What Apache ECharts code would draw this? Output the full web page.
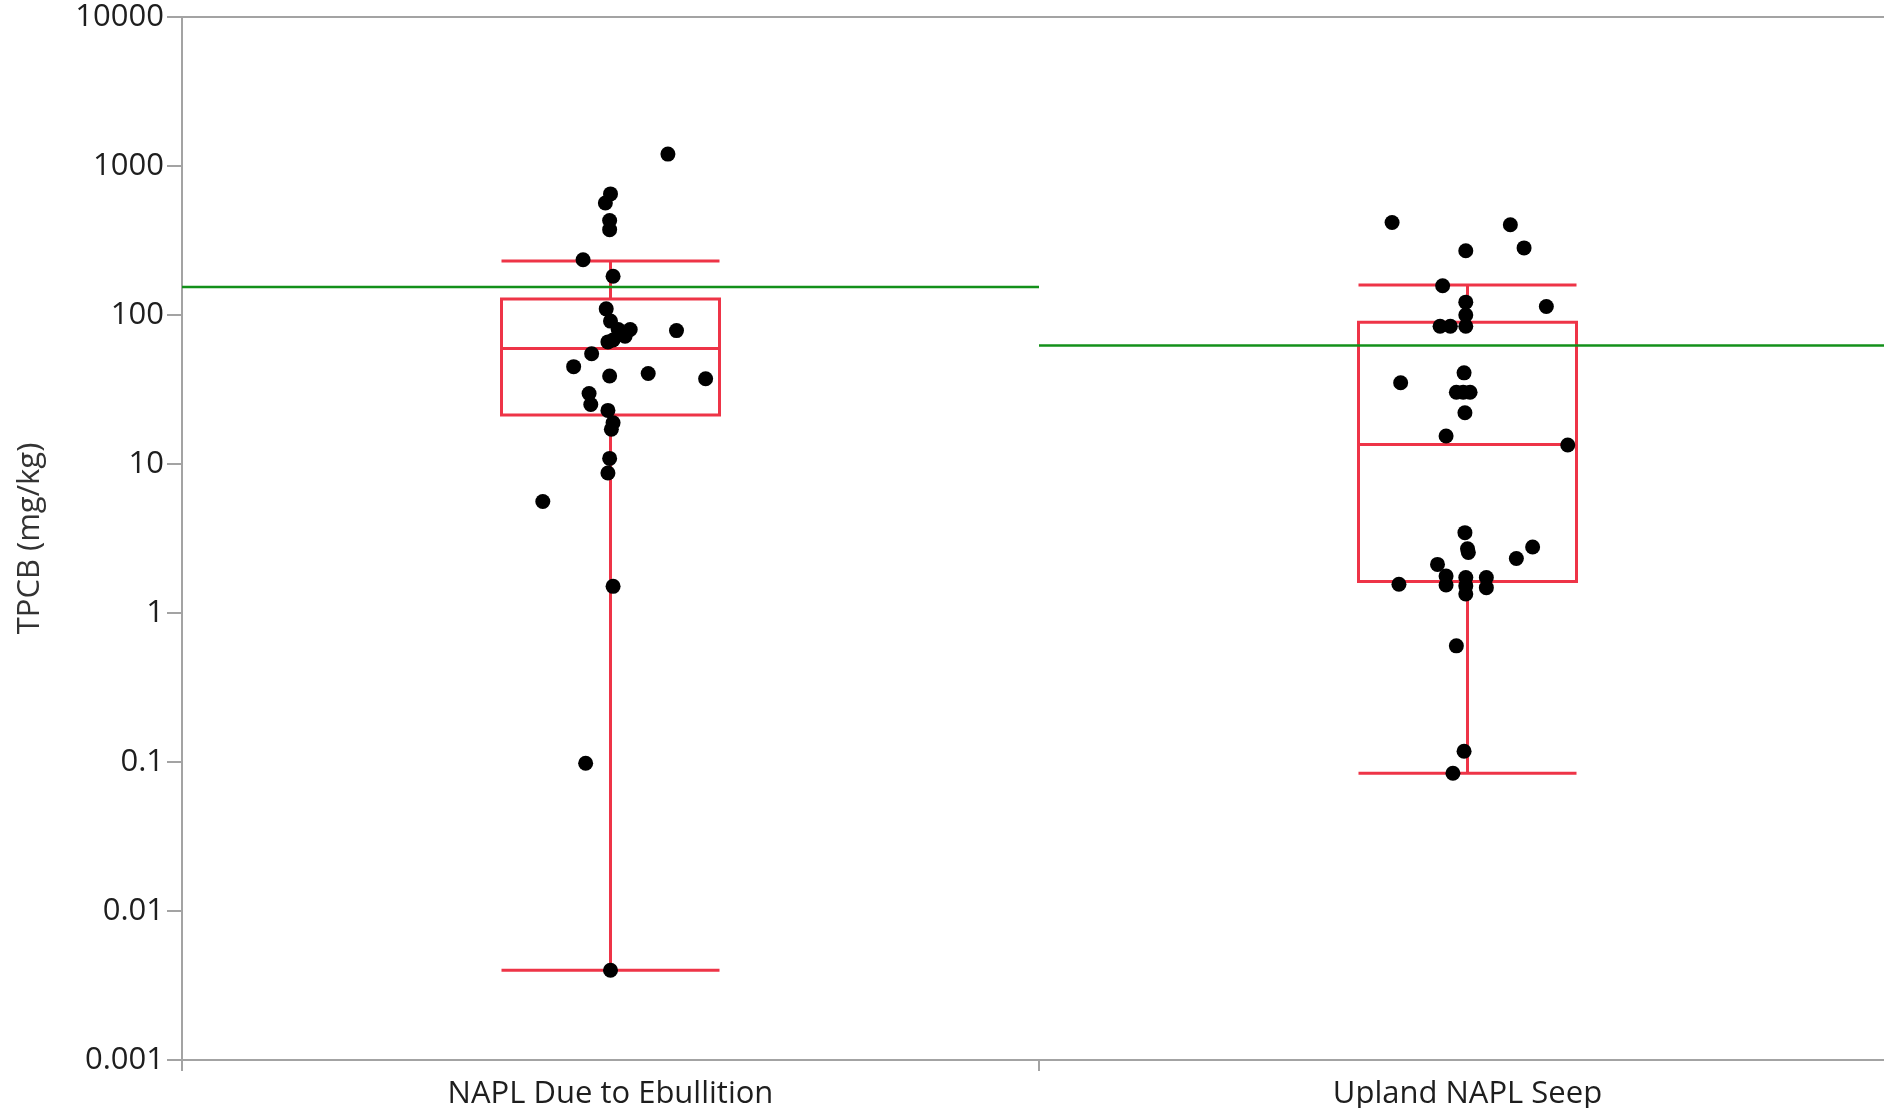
<!DOCTYPE html>
<html>
<head>
<meta charset="utf-8">
<title>TPCB by NAPL source</title>
<script src="https://cdn.jsdelivr.net/npm/echarts@6/dist/echarts.min.js"></script>
<style>
  html, body { margin: 0; padding: 0; background: #ffffff; overflow: hidden; }
  #chart { width: 1884px; height: 1108px; }
</style>
</head>
<body>
<div id="chart"></div>
<script>
// Groups on the x axis
const categories = ['NAPL Due to Ebullition', 'Upland NAPL Seep'];

// TPCB results (mg/kg) for each group, with horizontal jitter in band widths
const ebullitionValues = [1202, 650, 565, 431, 374, 235, 182, 110, 91, 80, 80, 72, 68, 66, 78.6,
  55, 45, 39, 40.5, 37.3, 29.7, 25.1, 22.9, 18.9, 17.1, 10.9, 8.7, 5.6, 1.51, 0.098, 0.004];
const ebullitionJitter = [0.067, 0.0, -0.006, -0.001, -0.001, -0.032, 0.003, -0.005, 0.0, 0.009, 0.023, 0.017, 0.003, -0.003, 0.077,
  -0.022, -0.043, -0.001, 0.044, 0.111, -0.025, -0.023, -0.003, 0.003, 0.001, -0.001, -0.003, -0.079, 0.003, -0.029, 0.0];

const seepValues = [418, 403, 270, 282, 157, 122, 100, 114, 84, 84, 84, 40.9, 35.1, 30.3, 30.3, 30.3,
  22.1, 15.4, 13.4, 3.46, 2.7, 2.55, 2.77, 2.32, 2.12, 1.77, 1.54, 1.73, 1.52, 1.34, 1.73, 1.48, 1.56,
  0.602, 0.118, 0.084];
const seepJitter = [-0.088, 0.050, -0.002, 0.066, -0.029, -0.002, -0.002, 0.092, -0.032, -0.020, -0.002, -0.004, -0.078, -0.013, -0.005, 0.003,
  -0.003, -0.025, 0.117, -0.003, 0.0, 0.001, 0.076, 0.057, -0.035, -0.025, -0.025, -0.002, -0.002, -0.002, 0.022, 0.022, -0.080,
  -0.013, -0.004, -0.017];

// Box summaries: [lower whisker, Q1, median, Q3, upper whisker]
const ebullitionBox = [0.004, 21.3, 59.5, 128, 230];
const seepBox = [0.084, 1.63, 13.5, 89.3, 159];

// Group means (mg/kg)
const meanValues = [154, 62.4];

// Y axis tick labels
const yTickLabels = ['0.001', '0.01', '0.1', '1', '10', '100', '1000', '10000'];

const AXIS_GRAY = '#a3a3a3';
const BOX_RED = '#ee3447';
const MEAN_GREEN = '#13901a';
const FONT = '"Open Sans", "Noto Sans", sans-serif';

function jittered(values, jitter, groupIndex) {
  return values.map((v, i) => [groupIndex + 0.5 + jitter[i], v]);
}

const chart = echarts.init(document.getElementById('chart'), null, { renderer: 'canvas' });

chart.setOption({
  backgroundColor: '#ffffff',
  animation: false,
  grid: {
    left: 182, top: 17, width: 1714, height: 1043,
    outerBoundsMode: 'none',
    containLabel: false,
    show: true, borderColor: AXIS_GRAY, borderWidth: 2, backgroundColor: 'transparent'
  },
  xAxis: [
    {
      type: 'category',
      data: categories,
      boundaryGap: true,
      axisLine: { lineStyle: { color: AXIS_GRAY, width: 2 } },
      axisTick: { show: true, length: 11, lineStyle: { color: AXIS_GRAY, width: 2 } },
      axisLabel: { fontFamily: FONT, fontSize: 31, color: '#1e1e1e', margin: 19 },
      splitLine: { show: false }
    },
    { type: 'value', min: 0, max: 2, show: false }
  ],
  yAxis: {
    type: 'log',
    logBase: 10,
    min: 0.001,
    max: 10000,
    name: 'TPCB (mg/kg)',
    nameLocation: 'middle',
    nameGap: 136,
    nameTextStyle: { fontFamily: FONT, fontSize: 31, color: '#333333' },
    axisLine: { show: true, lineStyle: { color: AXIS_GRAY, width: 2 } },
    axisTick: { show: true, length: 15, lineStyle: { color: AXIS_GRAY, width: 2 } },
    axisLabel: {
      fontFamily: FONT, fontSize: 31, color: '#1e1e1e', margin: 18,
      formatter: function (v) {
        const hit = yTickLabels.find(s => Math.abs(Math.log10(parseFloat(s)) - Math.log10(v)) < 1e-6);
        return hit || '';
      }
    },
    splitLine: { show: false },
    minorTick: { show: false }
  },
  series: [
    {
      type: 'boxplot',
      xAxisIndex: 0,
      data: [ebullitionBox, seepBox],
      boxWidth: [218, 218],
      itemStyle: { color: 'transparent', borderColor: BOX_RED, borderWidth: 3 },
      z: 2
    },
    {
      type: 'line',
      xAxisIndex: 1,
      data: [[0, meanValues[0]], [1, meanValues[0]]],
      symbol: 'none',
      lineStyle: { color: MEAN_GREEN, width: 2.5 },
      z: 3
    },
    {
      type: 'line',
      xAxisIndex: 1,
      data: [[1, meanValues[1]], [2, meanValues[1]]],
      symbol: 'none',
      lineStyle: { color: MEAN_GREEN, width: 2.5 },
      z: 3
    },
    {
      type: 'scatter',
      xAxisIndex: 1,
      data: jittered(ebullitionValues, ebullitionJitter, 0),
      symbol: 'circle',
      symbolSize: 15,
      itemStyle: { color: '#000000', opacity: 1 },
      z: 4
    },
    {
      type: 'scatter',
      xAxisIndex: 1,
      data: jittered(seepValues, seepJitter, 1),
      symbol: 'circle',
      symbolSize: 15,
      itemStyle: { color: '#000000', opacity: 1 },
      z: 4
    }
  ]
});
</script>
</body>
</html>
